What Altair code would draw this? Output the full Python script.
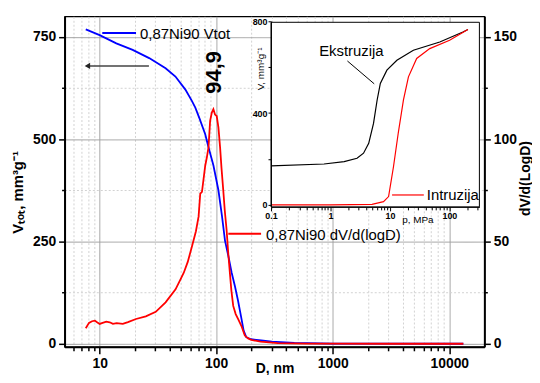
import altair as alt
import pandas as pd

# ---------------- data ----------------
vtot_D = [7.6, 10, 13.9, 19.2, 26.6, 36.8, 44.7, 54.4, 62, 66.2, 72, 80.5, 85.9, 94.6, 104.5,
          112, 119, 127, 135.6, 145, 154, 165, 172, 181, 199, 243, 300, 468, 1000, 3000, 13200]
vtot_V = [768, 754, 734, 718, 698, 673, 653, 621, 593, 577, 550, 512, 480, 436, 375,
          313, 252, 215, 174, 140, 105, 60, 32, 16, 11, 8, 5, 2, 0.5, 0.2, 0]

dv_D = [7.6, 8.1, 8.6, 9.1, 9.5, 10, 10.6, 11.4, 12.2, 13, 14, 15.8, 17.5, 20.5, 24.9, 30.3,
        36.8, 44.8, 49.4, 52.7, 57, 62, 67, 70.6, 73, 75.5, 80.5, 83.1, 85.9, 88.7, 91.7,
        94.6, 97.7, 101, 104.5, 108, 111, 115, 118.5, 122.8, 127, 131, 135, 140, 147, 154,
        164, 170, 176, 188, 200, 240, 337, 600, 1000, 3000, 13200]
dv_V = [7.6, 10.2, 11.0, 11.3, 10.5, 9.7, 10.2, 10.8, 10.5, 9.7, 10.1, 9.7, 10.6, 12.1, 13.4, 15.6,
        20.2, 26.6, 31.5, 34.7, 40, 47.6, 55, 62.1, 73.4, 74.2, 87, 91, 96, 108.9, 113,
        114.6, 112, 111.3, 105.7, 96, 86, 75, 65, 55.7, 44, 34.7, 26, 18.5, 14.5, 12.1,
        8.9, 6.5, 4, 2.6, 1.9, 1.0, 0.3, 0.1, 0.05, 0, 0]

ext_p = [0.1, 0.78, 1.7, 2.8, 3.6, 4.4, 5.3, 6.1, 6.9, 8.9, 13.1, 24.8, 69, 169, 205]
ext_V = [170, 178, 188, 203, 225, 268, 355, 457, 529, 587, 630, 674, 710, 753, 764]

intr_p = [0.1, 1, 5, 7.8, 9.5, 11.5, 13.8, 16.9, 20.5, 28.2, 46.8, 101, 205]
intr_V = [0, 0, 2, 14, 36, 167, 312, 457, 558, 638, 681, 717, 764]

x_ticks = [6, 7, 8, 9] + [m * 10 ** e for e in range(1, 4) for m in range(1, 10)] + [10000]
yl_ticks = [0, 125, 250, 375, 500, 625, 750]
yr_ticks = [0, 25, 50, 75, 100, 125, 150]
ix_ticks = [0.1, 0.2, 0.3, 0.4, 0.5, 0.6, 0.7, 0.8, 0.9, 1, 2, 3, 4, 5, 6, 7, 8, 9,
            10, 20, 30, 40, 50, 60, 70, 80, 90, 100, 200, 300]
iy_ticks = [0, 200, 400, 600, 800]

FONT = "Liberation Sans"

df_vtot = pd.DataFrame({"D": vtot_D, "V": vtot_V})
df_dv = pd.DataFrame({"D": dv_D, "v": dv_V})
df_in = pd.concat([
    pd.DataFrame({"p": ext_p, "V": ext_V, "col": "black", "s": "Ekstruzija"}),
    pd.DataFrame({"p": intr_p, "V": intr_V, "col": "#ff0000", "s": "Intruzija"}),
])

W, H = 423, 333
xscale = alt.Scale(type="log", domain=[5, 20000], nice=False)

major_x_test = "indexof([10,100,1000,10000], datum.value) >= 0"

blue = alt.Chart(df_vtot).mark_line(color="#0000ff", strokeWidth=1.8, clip=True).encode(
    x=alt.X("D:Q", scale=xscale, axis=alt.Axis(
        values=x_ticks, title="D, nm", titleFont=FONT, titleFontSize=14, titleFontWeight="bold",
        titleY=26, titleBaseline="alphabetic",
        labelExpr=f"{major_x_test} ? format(datum.value, 'd') : ''",
        labelFont=FONT, labelFontSize=14, labelFontWeight="bold", labelColor="black",
        labelPadding=3, labelFlush=False, labelOverlap=False,
        tickColor="black", tickWidth=1.5,
        tickSize={"condition": {"test": major_x_test, "value": 7}, "value": 4},
        domainColor="black", domainWidth=2,
        grid=True,
        gridColor={"condition": {"test": major_x_test, "value": "#a0a0a0"}, "value": "#d2d2d2"},
        gridDash={"condition": {"test": major_x_test, "value": [1, 0]}, "value": [2, 2]},
        gridWidth=1)),
    y=alt.Y("V:Q", scale=alt.Scale(domain=[-7.5, 800], nice=False, zero=False), axis=alt.Axis(
        orient="left", values=yl_ticks, title="Vₜₒₜ, mm³g⁻¹",
        titleFont=FONT, titleFontSize=15, titleFontWeight="bold", titleAngle=270,
        titleX=-47, titleY=177, titleAlign="center", titleBaseline="middle",
        labelExpr="datum.value % 250 == 0 ? datum.label : ''",
        labelFont=FONT, labelFontSize=14, labelFontWeight="bold", labelColor="black",
        labelPadding=3,
        tickColor="black", tickWidth=1.5,
        tickSize={"condition": {"test": "datum.value % 250 == 0", "value": 6}, "value": 3},
        domainColor="black", domainWidth=2,
        grid=True,
        gridColor={"condition": {"test": "datum.value % 250 == 0", "value": "#a0a0a0"}, "value": "#d2d2d2"},
        gridDash={"condition": {"test": "datum.value % 250 == 0", "value": [1, 0]}, "value": [2, 2]},
        gridWidth=1)),
)

red = alt.Chart(df_dv).mark_line(color="#ff0000", strokeWidth=1.8, clip=True).encode(
    x=alt.X("D:Q", scale=xscale, axis=None),
    y=alt.Y("v:Q", scale=alt.Scale(domain=[-1.5, 160], nice=False, zero=False), axis=alt.Axis(
        orient="right", values=yr_ticks, title="dV/d(LogD)",
        titleFont=FONT, titleFontSize=14, titleFontWeight="bold", titleAngle=270,
        titleX=41, titleY=163, titleAlign="center", titleBaseline="middle",
        labelExpr="datum.value % 50 == 0 ? datum.label : ''",
        labelFont=FONT, labelFontSize=14, labelFontWeight="bold", labelColor="black",
        labelPadding=3,
        tickColor="black", tickWidth=1.5,
        tickSize={"condition": {"test": "datum.value % 50 == 0", "value": 6}, "value": 3},
        domainColor="black", domainWidth=2, grid=False)),
)

# inset frame (white background covers main grid)
inset_box = alt.Chart(pd.DataFrame({"a": [0]})).mark_rect(
    fill="white", stroke="black", strokeWidth=1).encode(
    x=alt.value(208), x2=alt.value(418), y=alt.value(6), y2=alt.value(192))

ix_major = "indexof([0.1,1,10,100], datum.value) >= 0"
inset_lines = alt.Chart(df_in).mark_line(strokeWidth=1.2).encode(
    x=alt.X("p:Q", scale=alt.Scale(type="log", domain=[0.1, 320], range=[208, 418], nice=False),
            axis=alt.Axis(orient="bottom", offset=-141, values=ix_ticks, title=None,
                          labelExpr=f"{ix_major} ? format(datum.value, '~g') : ''",
                          labelFont=FONT, labelFontSize=9, labelFontWeight="bold",
                          labelColor="black", labelPadding=1, labelFlush=False,
                          labelOverlap=False, tickColor="black", tickWidth=1,
                          tickSize={"condition": {"test": ix_major, "value": 4}, "value": 3},
                          domainColor="black", domainWidth=1, grid=False, zindex=2)),
    y=alt.Y("V:Q", scale=alt.Scale(domain=[-9, 800], range=[192, 5], nice=False, zero=False),
            axis=alt.Axis(orient="left", offset=-208, values=iy_ticks, title=None,
                          labelExpr="datum.value % 400 == 0 ? datum.label : ''",
                          labelFont=FONT, labelFontSize=9, labelFontWeight="bold",
                          labelColor="black", labelPadding=1, tickColor="black", tickWidth=1,
                          tickSize=3, domainColor="black", domainWidth=1, grid=False, zindex=2)),
    color=alt.Color("col:N", scale=None),
    detail="s:N",
)

def txt(s, x, y, size=15, weight="normal", angle=0, align="left", color="black"):
    return alt.Chart(pd.DataFrame({"t": [s]})).mark_text(
        font=FONT, fontSize=size, fontWeight=weight, angle=angle, align=align,
        baseline="middle", color=color).encode(text="t:N", x=alt.value(x), y=alt.value(y))

def seg(x1, x2, y1, y2, color, width):
    return alt.Chart(pd.DataFrame({"a": [0]})).mark_rule(color=color, strokeWidth=width).encode(
        x=alt.value(x1), x2=alt.value(x2), y=alt.value(y1), y2=alt.value(y2))

arrow_line = seg(25, 85, 50, 50, "#444444", 1.5)
arrow_head = alt.Chart(pd.DataFrame({"a": [0]})).mark_point(
    shape="triangle-left", filled=True, color="#222222", size=40, opacity=1).encode(
    x=alt.value(23), y=alt.value(50))

leg1_line = seg(38, 72, 16.7, 16.7, "#0000ff", 2)
leg1_txt = txt("0,87Ni90 Vtot", 76, 17.5)
leg2_line = seg(165, 198, 219, 219, "#ff0000", 2)
leg2_txt = txt("0,87Ni90 dV/d(logD)", 203, 220)
peak_txt = txt("94,9", 150.5, 56.5, size=22, weight="bold", angle=270, align="center")

ext_txt = txt("Ekstruzija", 289, 35, align="center")
ext_line = seg(285, 312, 45, 68, "black", 1)
intr_line = seg(330, 362, 180, 180, "#ff0000", 1.2)
intr_txt = txt("Intruzija", 365, 180)
iy_title = txt("V, mm³g⁻¹", 198, 53, size=10, angle=270, align="center")
ix_title = txt("p, MPa", 356, 205, size=10, align="center")

chart = alt.layer(
    blue, red, inset_box, inset_lines,
    arrow_line, arrow_head, leg1_line, leg1_txt, leg2_line, leg2_txt, peak_txt,
    ext_txt, ext_line, intr_line, intr_txt, iy_title, ix_title,
).resolve_scale(x="independent", y="independent").properties(
    width=W, height=H,
    autosize=alt.AutoSizeParams(type="none"),
    padding={"left": 57, "top": 7, "right": 48, "bottom": 27},
    background="white",
).configure_view(stroke="black", strokeWidth=1.2)

chart.save("out.html", embed_options={"renderer": "svg", "actions": False})
